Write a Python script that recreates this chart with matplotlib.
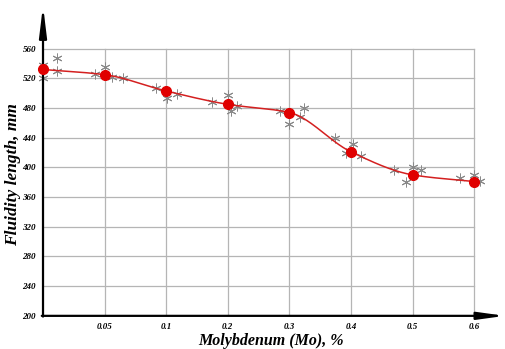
import numpy as np
import matplotlib.pyplot as plt

# Содержание Mo, % (ось неравномерная, как на оригинале)
tick_mo = [0, 0.05, 0.1, 0.2, 0.3, 0.4, 0.5, 0.6]
tick_labels = ['', '0.05', '0.1', '0.2', '0.3', '0.4', '0.5', '0.6']
y_ticks = [200, 240, 280, 320, 360, 400, 440, 480, 520, 560]

# средние значения жидкотекучести, мм
mean_mo = [0, 0.05, 0.1, 0.2, 0.3, 0.4, 0.5, 0.6]
mean_len = [532, 525, 503, 485, 474, 421, 390, 381]

# отдельные замеры
meas_mo = [0.0, 0.0, 0.011, 0.011, 0.042, 0.05, 0.056, 0.065,
           0.092, 0.102, 0.118, 0.175, 0.2, 0.205, 0.215,
           0.285, 0.3, 0.323, 0.318, 0.374, 0.392, 0.403, 0.416,
           0.47, 0.49, 0.5, 0.514, 0.577, 0.6, 0.61]
meas_len = [538, 521, 547, 530, 526, 536, 522, 520,
            507, 494, 499, 488, 497, 476, 483,
            476, 458, 480, 468, 440, 420, 432, 415,
            397, 381, 401, 397, 386, 390, 382]

pos = np.arange(len(tick_mo))


def pos_ext(v):
    v = np.asarray(v, dtype=float)
    p = np.interp(v, tick_mo, pos)
    p = np.where(v > tick_mo[-1], pos[-1] + (v - tick_mo[-1]) / 0.1, p)
    return p


def pchip(x, y, xs):
    x = np.asarray(x, float)
    y = np.asarray(y, float)
    h = np.diff(x)
    d = np.diff(y) / h
    m = np.zeros_like(y)
    for k in range(1, len(y) - 1):
        if d[k - 1] * d[k] > 0:
            w1 = 2 * h[k] + h[k - 1]
            w2 = h[k] + 2 * h[k - 1]
            m[k] = (w1 + w2) / (w1 / d[k - 1] + w2 / d[k])
    m[0] = d[0]
    m[-1] = d[-1]
    i = np.clip(np.searchsorted(x, xs) - 1, 0, len(h) - 1)
    t = (xs - x[i]) / h[i]
    h00 = 2 * t**3 - 3 * t**2 + 1
    h10 = t**3 - 2 * t**2 + t
    h01 = -2 * t**3 + 3 * t**2
    h11 = t**3 - t**2
    return h00 * y[i] + h10 * h[i] * m[i] + h01 * y[i + 1] + h11 * h[i] * m[i + 1]


fig = plt.figure(figsize=(5.06, 3.49), dpi=100)
ax = fig.add_axes([0.085, 0.095, 0.913, 0.876])

font = {'family': 'Liberation Serif', 'weight': 'bold', 'style': 'italic'}

# сетка
for yv in y_ticks[1:]:
    ax.plot([pos[0], pos[-1]], [yv, yv], color='#b5b5b5', lw=0.9, zorder=1)
for xv in pos[1:]:
    ax.plot([xv, xv], [200, 560], color='#b5b5b5', lw=0.9, zorder=1)

# кривая
mp = pos_ext(mean_mo)
xs = np.linspace(mp[0], mp[-1], 300)
ax.plot(xs, pchip(mp, mean_len, xs), color='#d42020', lw=1.1, zorder=3)
ax.plot(pos_ext(meas_mo), meas_len, linestyle='none', marker=(6, 2, 0),
        ms=7, mec='#8a8a8a', mew=0.7, zorder=2, clip_on=False)
ax.plot(mp, mean_len, 'o', color='#e00000', ms=7, zorder=4, clip_on=False)

# оси со стрелками
ax.annotate('', xy=(0, 618), xytext=(0, 199), annotation_clip=False,
            arrowprops=dict(arrowstyle='-|>,head_length=1.8,head_width=0.22',
                            lw=1.6, color='black', shrinkA=0, shrinkB=0))
ax.annotate('', xy=(7.5, 200), xytext=(-0.02, 200), annotation_clip=False,
            arrowprops=dict(arrowstyle='-|>,head_length=1.6,head_width=0.22',
                            lw=1.6, color='black', shrinkA=0, shrinkB=0))

ax.set_xlim(0, 7.5)
ax.set_ylim(200, 612)
for s in ax.spines.values():
    s.set_visible(False)
ax.set_xticks(pos)
ax.set_xticklabels(tick_labels, fontdict=font, fontsize=6.5)
ax.set_yticks(y_ticks)
ax.set_yticklabels([str(v) for v in y_ticks], fontdict=font, fontsize=6.5)
ax.tick_params(length=0, pad=5)
ax.tick_params(axis='y', pad=5)

fig.text(0.535, 0.024, 'Molybdenum (Mo), %', fontdict=font, fontsize=11.5,
         ha='center', va='center')
fig.text(0.026, 0.50, 'Fluidity length, mm', fontdict=font, fontsize=12.5,
         ha='center', va='center', rotation=90)

fig.savefig('out.png', dpi=100)
